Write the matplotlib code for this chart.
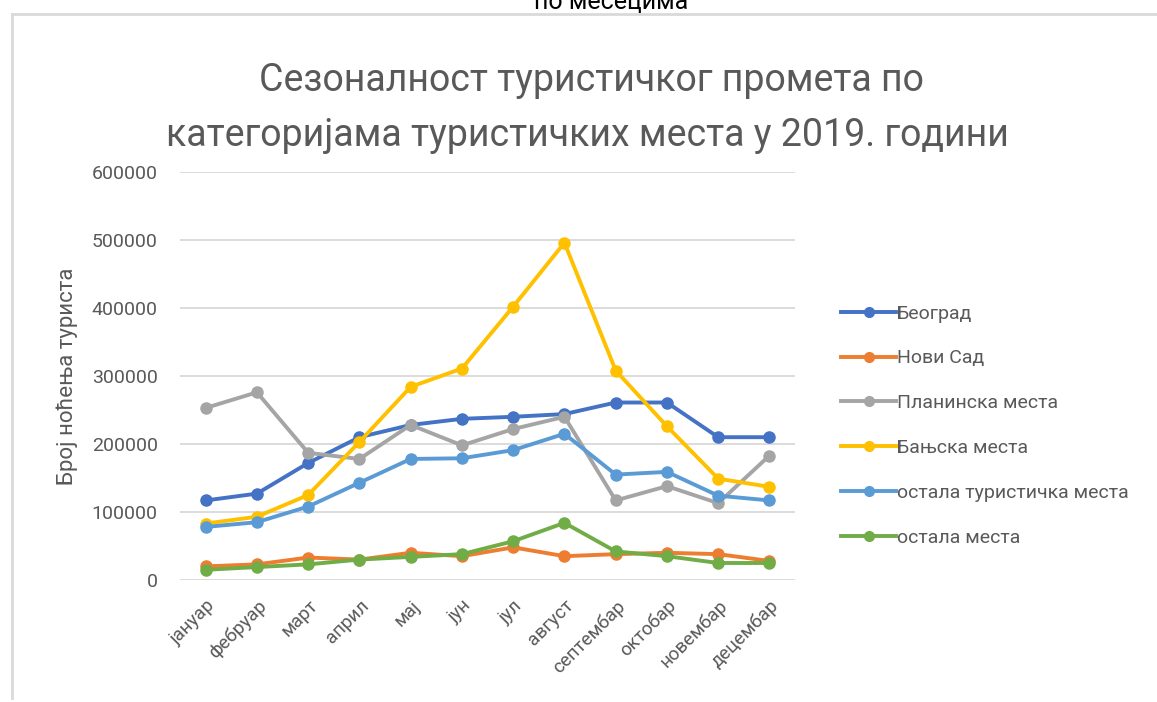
#!/usr/bin/env python

import matplotlib
matplotlib.use("Agg")
import matplotlib.pyplot as plt
from matplotlib.lines import Line2D

plt.rcParams['font.family'] = ['Roboto', 'DejaVu Sans']

months = ["јануар", "фебруар", "март", "април", "мај", "јун", "јул",
          "август", "септембар", "октобар", "новембар", "децембар"]

beograd   = [117000, 127000, 172000, 210000, 228000, 237000, 240000, 244000, 261000, 261000, 210000, 210000]
novi_sad  = [20000, 23000, 33000, 30000, 40000, 35000, 48000, 35000, 38000, 40000, 38000, 28000]
planinska = [253000, 276000, 187000, 178000, 228000, 198000, 222000, 240000, 117000, 138000, 113000, 183000]
banjska   = [83000, 93000, 125000, 203000, 284000, 311000, 402000, 496000, 308000, 226000, 149000, 137000]
ostala_t  = [78000, 85000, 108000, 143000, 178000, 179000, 191000, 215000, 155000, 159000, 124000, 117000]
ostala    = [15000, 19000, 23000, 30000, 34000, 38000, 57000, 84000, 42000, 35000, 25000, 25000]

series = [
    ("Београд", beograd, "#4472C4"),
    ("Нови Сад", novi_sad, "#ED7D31"),
    ("Планинска места", planinska, "#A5A5A5"),
    ("Бањска места", banjska, "#FFC000"),
    ("остала туристичка места", ostala_t, "#5B9BD5"),
    ("остала места", ostala, "#70AD47"),
]

yticks = [0, 100000, 200000, 300000, 400000, 500000, 600000]

txt = "#595959"
grid = "#D9D9D9"

fig = plt.figure(figsize=(11.57, 7.02), dpi=100)
ax = fig.add_axes([0.1556, 0.1738, 0.5316, 0.5812])

x = list(range(len(months)))
for name, vals, col in series:
    ax.plot(x, vals, color=col, lw=2.8, marker='o', markersize=8,
            solid_joinstyle='round', label=name)

ax.set_xlim(-0.5, len(months) - 0.5)
ax.set_ylim(0, 600000)
ax.set_yticks(yticks)
ax.set_yticklabels([str(v) for v in yticks], color=txt, fontsize=14)
ax.set_xticks(x)
ax.set_xticklabels(months, rotation=45, ha='right', rotation_mode='anchor',
                   color=txt, fontsize=13.5)
ax.tick_params(axis='y', length=0, pad=16)
ax.tick_params(axis='x', length=0, pad=12)
ax.grid(axis='y', color=grid, lw=1.3)
ax.set_axisbelow(True)
for s in ax.spines.values():
    s.set_visible(False)
ax.set_ylabel("Број ноћења туриста", color=txt, fontsize=16, labelpad=10)

handles = [Line2D([], [], color=c, lw=2.8, marker='o', markersize=7) for _, _, c in series]
leg = fig.legend(handles, [s[0] for s in series], loc='upper left',
                 bbox_to_anchor=(0.712, 0.591), frameon=False, fontsize=14,
                 labelspacing=1.38, handlelength=2.8, handletextpad=0.05,
                 labelcolor=txt)

fig.text(0.511, 0.885, "Сезоналност туристичког промета по", ha='center',
         va='center', fontsize=27, color=txt)
fig.text(0.508, 0.807, "категоријама туристичких места у 2019. години",
         ha='center', va='center', fontsize=27, color=txt)
fig.text(0.528, 1 - 9 / 702, "по месецима", ha='center', va='baseline',
         fontsize=18, color='black')

# chart area border
fig.add_artist(Line2D([12 / 1157, 12 / 1157], [1 - 698 / 702, 1 - 14 / 702],
                      transform=fig.transFigure, color=grid, lw=2))
fig.add_artist(Line2D([12 / 1157, 1.0], [1 - 14 / 702, 1 - 14 / 702],
                      transform=fig.transFigure, color=grid, lw=2))

fig.savefig("out.png", dpi=100)
